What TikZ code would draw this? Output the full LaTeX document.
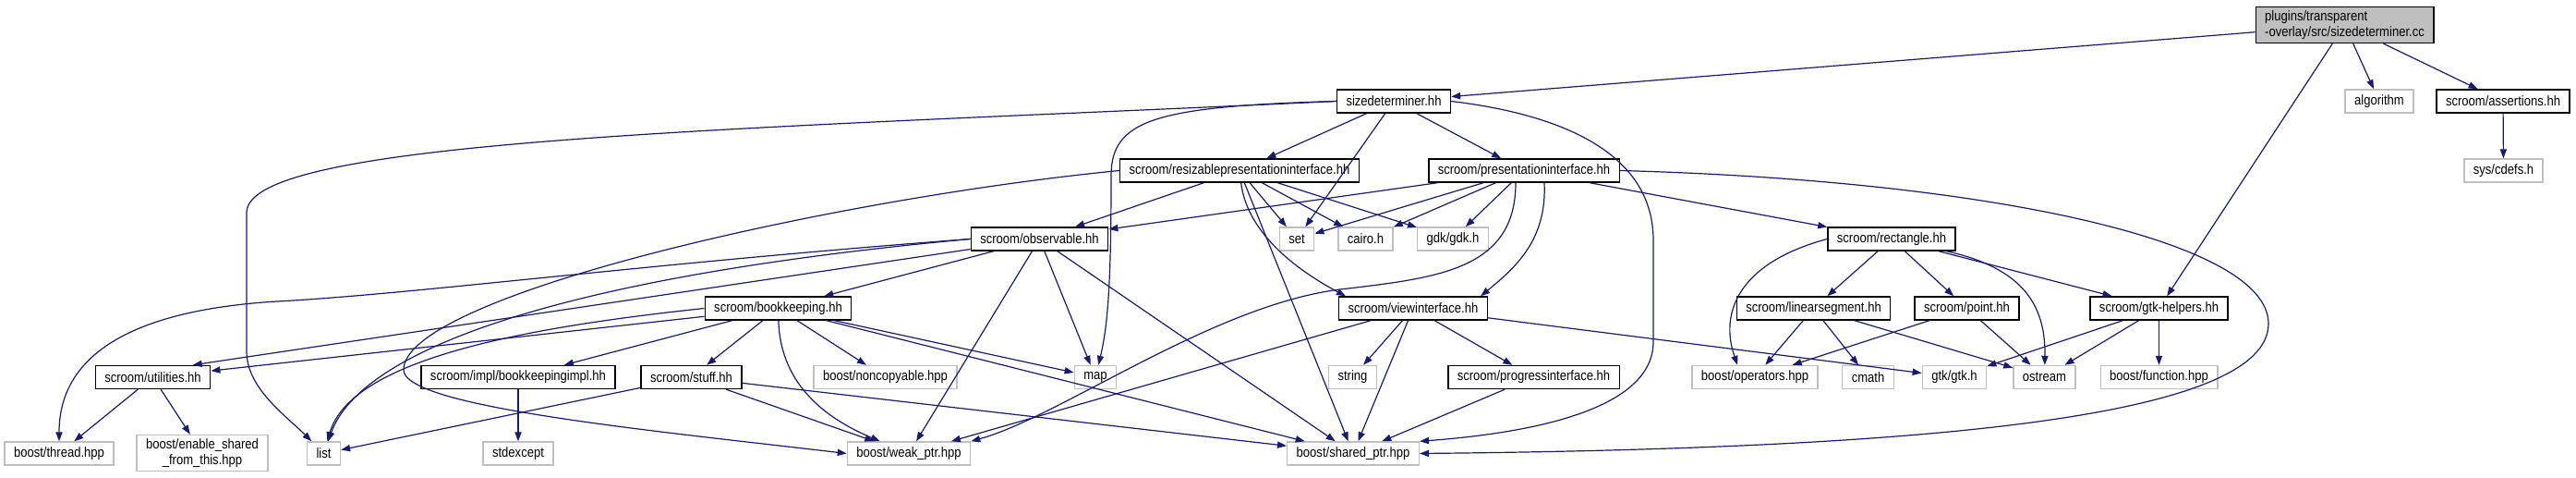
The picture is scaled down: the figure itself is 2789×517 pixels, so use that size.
\documentclass[tikz,border=0pt]{standalone}
\usepackage{fontspec}
\setmainfont{Liberation Sans}[FakeStretch=0.87]
\usepackage{tikz}
\usetikzlibrary{positioning, arrows.meta}

\definecolor{edgeblue}{HTML}{191970}
\definecolor{boxgrey}{HTML}{BFBFBF}

\tikzset{
  hfile/.style={draw=black, line width=0.7pt, fill=white, inner xsep=5pt, inner ysep=1pt,
    minimum height=12.5pt, font=\fontsize{7.5}{8.5}\selectfont},
  sysfile/.style={hfile, draw=boxgrey},
  srcfile/.style={hfile, fill=boxgrey, align=left, inner ysep=2pt},
  dep/.style={draw=edgeblue, line width=0.6pt, -{Triangle[length=5pt,width=3.6pt]}}
}

\begin{document}
\begin{tikzpicture}[x=0.5pt, y=-0.5pt]
    \useasboundingbox (0,0) rectangle (2789,517);

    % --- Source file and first level ---
    \node[srcfile] (top) at (2538.5,27) {plugins/transparent\\-overlay/src/sizedeterminer.cc};
    \node[hfile] (sizedet) at (1509,109.5) {sizedeterminer.hh};
    \node[sysfile] (algorithm) at (2576,109.5) {algorithm};
    \node[hfile] (assertions) at (2710,109.5) {scroom/assertions.hh};

    % --- Second level ---
    \node[hfile] (resizable) at (1342,184.5) {scroom/resizablepresentationinterface.hh};
    \node[hfile] (presentation) at (1650,184.5) {scroom/presentationinterface.hh};
    \node[sysfile] (cdefs) at (2710.5,184.5) {sys/cdefs.h};

    % --- Third level ---
    \node[hfile] (observable) at (1125.5,258.5) {scroom/observable.hh};
    \node[sysfile] (set) at (1404,258.5) {set};
    \node[sysfile] (cairo) at (1478.5,258.5) {cairo.h};
    \node[sysfile] (gdk) at (1573,258.5) {gdk/gdk.h};
    \node[hfile] (rectangle) at (2048,258.5) {scroom/rectangle.hh};

    % --- Fourth level ---
    \node[hfile] (bookkeeping) at (842.5,333.5) {scroom/bookkeeping.hh};
    \node[hfile] (viewinterface) at (1530,333.5) {scroom/viewinterface.hh};
    \node[hfile] (linearsegment) at (1963.5,333.5) {scroom/linearsegment.hh};
    \node[hfile] (point) at (2129.5,333.5) {scroom/point.hh};
    \node[hfile] (gtkhelpers) at (2337.5,333.5) {scroom/gtk-helpers.hh};

    % --- Fifth level ---
    \node[hfile] (utilities) at (165.5,408) {scroom/utilities.hh};
    \node[hfile] (impl) at (561,408) {scroom/impl/bookkeepingimpl.hh};
    \node[hfile] (stuff) at (748.5,408) {scroom/stuff.hh};
    \node[sysfile] (noncopyable) at (958.5,408) {boost/noncopyable.hpp};
    \node[sysfile] (map) at (1186,408) {map};
    \node[sysfile] (string) at (1464.5,408) {string};
    \node[hfile] (progress) at (1660.5,408) {scroom/progressinterface.hh};
    \node[sysfile] (operators) at (1900,408) {boost/operators.hpp};
    \node[sysfile] (cmath) at (2022.5,408) {cmath};
    \node[sysfile] (gtkh) at (2116,408) {gtk/gtk.h};
    \node[sysfile] (ostream) at (2213.5,408) {ostream};
    \node[sysfile] (function) at (2337.5,408) {boost/function.hpp};

    % --- Bottom level ---
    \node[sysfile] (thread) at (64,490.5) {boost/thread.hpp};
    \node[sysfile, align=center, inner ysep=2pt] (enable) at (219,490) {boost/enable\_shared\\\_from\_this.hpp};
    \node[sysfile] (list) at (350.5,490.5) {list};
    \node[sysfile] (stdexcept) at (561,490.5) {stdexcept};
    \node[sysfile] (weakptr) at (984,490.5) {boost/weak\_ptr.hpp};
    \node[sysfile] (sharedptr) at (1465,490.5) {boost/shared\_ptr.hpp};

    % --- Edges from the source file ---
    \draw[dep] (top) -- (sizedet);
    \draw[dep] (top) -- (algorithm);
    \draw[dep] (top) -- (assertions);
    \draw[dep] (top) -- (gtkhelpers);
    \draw[dep] (assertions) -- (cdefs);

    % --- sizedeterminer.hh ---
    \draw[dep] (sizedet.west) .. controls (800,140) and (267,150) .. (267,230) -- (267,380) .. controls (267,420) and (310,450) .. (list);
    \draw[dep] (sizedet.west) .. controls (1250,115) and (1203,130) .. (1203,190) .. controls (1203,300) and (1200,350) .. (map);
    \draw[dep] (sizedet) -- (set);
    \draw[dep] (sizedet) -- (resizable);
    \draw[dep] (sizedet) -- (presentation);
    \draw[dep] (sizedet.east) .. controls (1700,125) and (1790,170) .. (1790,260) -- (1790,370) .. controls (1790,430) and (1700,465) .. (sharedptr.north east);

    % --- resizablepresentationinterface.hh ---
    \draw[dep] (resizable) -- (observable);
    \draw[dep] (resizable) -- (set);
    \draw[dep] (resizable) -- (cairo);
    \draw[dep] (resizable) -- (gdk);
    \draw[dep] (resizable) .. controls (1350,250) and (1400,290) .. ([xshift=4pt]viewinterface.north west);
    \draw[dep] (resizable) -- (sharedptr);
    \draw[dep] (resizable.west) .. controls (900,215) and (437,320) .. (437,400) .. controls (437,440) and (700,465) .. (weakptr.west);

    % --- presentationinterface.hh ---
    \draw[dep] (presentation) -- (observable);
    \draw[dep] (presentation) -- (set);
    \draw[dep] (presentation) -- (cairo);
    \draw[dep] (presentation) -- (gdk);
    \draw[dep] ([xshift=11pt]presentation.south) .. controls (1675,260) and (1640,290) .. ([xshift=-4pt]viewinterface.north east);
    \draw[dep] ([xshift=-4.5pt]presentation.south) .. controls (1641,290) and (1560,300) .. (1460,312) .. controls (1320,325) and (1150,450) .. (weakptr.north east);
    \draw[dep] (presentation) -- (rectangle);
    \draw[dep] (presentation.east) .. controls (2150,195) and (2456,260) .. (2456,350) .. controls (2456,450) and (2100,485) .. (sharedptr.east);

    % --- observable.hh ---
    \draw[dep] (observable) -- (bookkeeping);
    \draw[dep] (observable) -- (map);
    \draw[dep] (observable) -- (weakptr);
    \draw[dep] (observable) -- (sharedptr);
    \draw[dep] (observable.west) .. controls (700,285) and (450,318) .. (300,326) .. controls (150,335) and (64,380) .. (thread);
    \draw[dep] (observable) -- (utilities.17);
    \draw[dep] (observable.west) .. controls (600,300) and (390,380) .. (list);

    % --- bookkeeping.hh ---
    \draw[dep] (bookkeeping) -- (utilities);
    \draw[dep] (bookkeeping.west) .. controls (560,355) and (380,390) .. (list);
    \draw[dep] (bookkeeping) -- (impl);
    \draw[dep] (bookkeeping) -- (stuff);
    \draw[dep] (bookkeeping) .. controls (845,420) and (900,455) .. (weakptr);
    \draw[dep] (bookkeeping) -- (noncopyable);
    \draw[dep] (bookkeeping) -- (map);
    \draw[dep] (bookkeeping) -- (sharedptr);

    % --- lower left headers ---
    \draw[dep] (utilities) -- (thread);
    \draw[dep] (utilities) -- (enable);
    \draw[dep] (impl) -- (stdexcept);
    \draw[dep] (stuff) -- (list);
    \draw[dep] (stuff) -- (weakptr);
    \draw[dep] (stuff) -- (sharedptr);

    % --- viewinterface.hh ---
    \draw[dep] (viewinterface) -- (weakptr);
    \draw[dep] (viewinterface) -- (string);
    \draw[dep] (viewinterface) -- (sharedptr);
    \draw[dep] (viewinterface) -- (progress);
    \draw[dep] (viewinterface) -- (gtkh);
    \draw[dep] (progress) -- (sharedptr);

    % --- rectangle.hh and friends ---
    \draw[dep] (rectangle.west) .. controls (1880,285) and (1862,340) .. (operators.145);
    \draw[dep] (rectangle) -- (linearsegment);
    \draw[dep] (rectangle) -- (point);
    \draw[dep] (rectangle) .. controls (2190,290) and (2215,330) .. (ostream);
    \draw[dep] (rectangle) -- (gtkhelpers);
    \draw[dep] (linearsegment) -- (operators);
    \draw[dep] (linearsegment) -- (cmath);
    \draw[dep] (linearsegment) -- (ostream);
    \draw[dep] (point) -- (operators);
    \draw[dep] (point) -- (ostream);
    \draw[dep] (gtkhelpers) -- (gtkh);
    \draw[dep] (gtkhelpers) -- (ostream);
    \draw[dep] (gtkhelpers) -- (function);

\end{tikzpicture}
\end{document}
